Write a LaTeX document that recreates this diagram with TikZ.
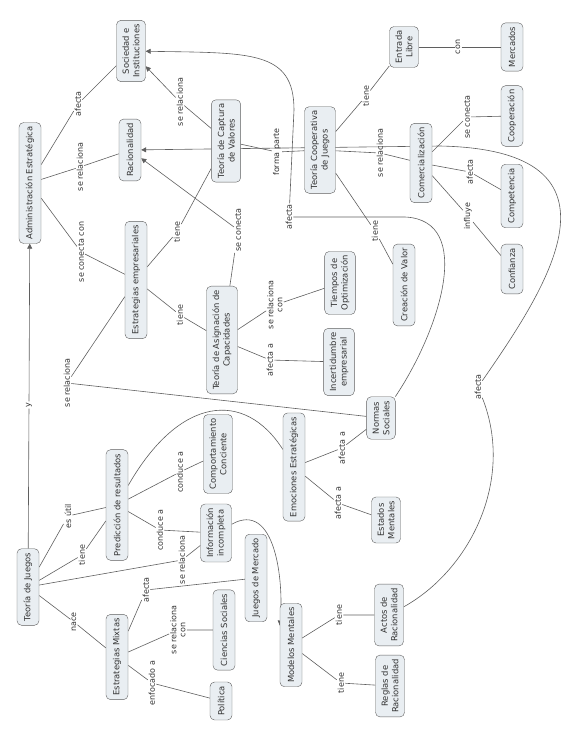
\documentclass[tikz,border=0pt]{standalone}
\usepackage{fontspec}
\setmainfont{DejaVu Sans}
\usepackage{tikz}
\usetikzlibrary{arrows.meta,backgrounds}
\definecolor{ink}{RGB}{50,50,50}
\definecolor{edge}{RGB}{95,95,95}
\definecolor{cbox}{RGB}{233,238,242}

\begin{document}
\begin{tikzpicture}[x=1pt,y=-1pt,
  concept/.style={rectangle,rounded corners=1.6mm,draw=edge,fill=cbox,text=ink,align=center,rotate=90,font=\fontsize{8.4}{10.5}\selectfont,inner xsep=4pt,inner ysep=6pt,minimum height=22pt},
  lbl/.style={rotate=90,align=center,text=ink,font=\fontsize{8}{9}\selectfont,inner sep=1pt},
  link/.style={draw=edge,line width=0.6pt},
  arrow/.style={link,-{Triangle[length=5pt,width=5pt]}}
]
\useasboundingbox (0,0) rectangle (571,737);
\node[concept] (admin) at (30,183) {Administración Estratégica};
\node[concept] (sociedad) at (131,51) {Sociedad e\\Instituciones};
\node[concept] (racional) at (130,150) {Racionalidad};
\node[concept] (captura) at (226,141) {Teoría de Captura\\de Valores};
\node[concept] (estemp) at (136,280) {Estrategias empresariales};
\node[concept] (asigna) at (222,340) {Teoría de Asignación de\\Capacidades};
\node[concept] (coopj) at (320,150) {Teoría Cooperativa\\de Juegos};
\node[concept] (entrada) at (404,47) {Entrada\\Libre};
\node[concept] (mercados) at (512,47) {Mercados};
\node[concept] (comerc) at (421,163) {Comercialización};
\node[concept] (cooperacion) at (512,116) {Cooperación};
\node[concept] (competencia) at (512,196) {Competencia};
\node[concept] (confianza) at (512,269) {Confianza};
\node[concept] (creacion) at (404,285) {Creación de Valor};
\node[concept] (tiempos) at (340,283) {Tiempos de\\Optimización};
\node[concept] (incert) at (339,362) {Incertidumbre\\empresarial};
\node[concept] (normas) at (381,418) {Normas\\Sociales};
\node[concept] (emociones) at (294,467) {Emociones Estratégicas};
\node[concept] (estados) at (386,520) {Estados\\Mentales};
\node[concept] (actos) at (389,615) {Actos de\\Racionalidad};
\node[concept] (reglas) at (390,686) {Reglas de\\Racionalidad};
\node[concept] (modelos) at (291,645) {Modelos Mentales};
\node[concept] (juegos) at (28,587) {Teoría de Juegos};
\node[concept] (prediccion) at (117,505) {Predicción de resultados};
\node[concept] (comport) at (218,454) {Comportamiento\\Conciente};
\node[concept] (info) at (216,533) {Información\\incompleta};
\node[concept] (jmercado) at (256,578) {Juegos de Mercado};
\node[concept] (mixtas) at (117,657) {Estrategias Mixtas};
\node[concept] (ciencias) at (224,630) {Ciencias Sociales};
\node[concept] (politica) at (221,701) {Política};

\node[lbl] (afecta1) at (78,104) {afecta};
\node[lbl] (serel1) at (80,167) {se relaciona};
\node[lbl] (seconcon) at (81,252) {se conecta con};
\node[lbl] (yy) at (29,405) {y};
\node[lbl] (serel2) at (180,102) {se relaciona};
\node[lbl] (tiene1) at (177,232) {tiene};
\node[lbl] (forma) at (277,152) {forma parte};
\node[lbl] (tiene2) at (366,96) {tiene};
\node[lbl] (con) at (458,47) {con};
\node[lbl] (serel3) at (380,153) {se relaciona};
\node[lbl] (seconecta1) at (467,117) {se conecta};
\node[lbl] (afecta2) at (470,172) {afecta};
\node[lbl] (influye) at (468,216) {influye};
\node[lbl] (tiene3) at (375,231) {tiene};
\node[lbl] (afecta3) at (478,387) {afecta};
\node[lbl] (afecta4) at (289,217) {afecta};
\node[lbl] (tiene4) at (180,315) {tiene};
\node[lbl] (seconecta2) at (238,230) {se conecta};
\node[lbl] (serelcon1) at (275,305) {se relaciona\\con};
\node[lbl] (afectaa1) at (270,360) {afecta a};
\node[lbl] (serel4) at (67,383) {se relaciona};
\node[lbl] (afectaa2) at (342,448) {afecta a};
\node[lbl] (afectaa3) at (338,503) {afecta a};
\node[lbl] (esutil) at (68,516) {es útil};
\node[lbl] (tiene5) at (82,555) {tiene};
\node[lbl] (conduce1) at (180,472) {conduce a};
\node[lbl] (conduce2) at (160,530) {conduce a};
\node[lbl] (serel5) at (182,560) {se relaciona};
\node[lbl] (nace) at (74,622) {nace};
\node[lbl] (afecta5) at (146,590) {afecta};
\node[lbl] (serelcon2) at (178,630) {se relaciona\\con};
\node[lbl] (enfocado) at (152,683) {enfocado a};
\node[lbl] (tiene6) at (339,615) {tiene};
\node[lbl] (tiene7) at (341,683) {tiene};

\begin{pgfonlayer}{background}
\draw[link] (admin) -- (afecta1) -- (sociedad);
\draw[link] (admin) -- (serel1) -- (racional);
\draw[link] (admin) -- (seconcon) -- (estemp);
\draw[arrow] (juegos) -- (yy) -- (admin);
\draw[arrow] (captura) -- (serel2) -- (sociedad);
\draw[link] (estemp) -- (tiene1) -- (captura);
\draw[link] (captura) -- (forma) -- (coopj);
\draw[link] (coopj) -- (tiene2) -- (entrada);
\draw[link] (entrada) -- (con) -- (mercados);
\draw[link] (coopj) -- (serel3) -- (comerc);
\draw[link] (comerc) -- (seconecta1) -- (cooperacion);
\draw[link] (comerc) -- (afecta2) -- (competencia);
\draw[link] (comerc) -- (influye) -- (confianza);
\draw[link] (coopj) -- (tiene3) -- (creacion);
\draw[link] (actos) .. controls (470,570) and (515,480) .. (afecta3);
\draw[arrow] (afecta3) .. controls (545,290) and (640,150) .. (440,146) -- (racional);
\draw[link] (normas) .. controls (440,330) and (475,220) .. (405,217) -- (afecta4);
\draw[arrow] (afecta4) -- (294,110) .. controls (294,50) and (250,53) .. (sociedad);
\draw[link] (estemp) -- (tiene4) -- (asigna);
\draw[arrow] (asigna) -- (seconecta2) -- (racional);
\draw[link] (asigna) -- (serelcon1) -- (tiempos);
\draw[link] (asigna) -- (afectaa1) -- (incert);
\draw[link] (estemp) -- (serel4) -- (normas);
\draw[link] (emociones) -- (afectaa2) -- (normas);
\draw[link] (emociones) -- (afectaa3) -- (estados);
\draw[link] (juegos) -- (esutil) -- (prediccion);
\draw[link] (juegos) -- (tiene5) -- (prediccion);
\draw[link] (prediccion) -- (conduce1) -- (comport);
\draw[link] (prediccion) -- (conduce2) -- (info);
\draw[link] (prediccion) .. controls (180,395) and (245,390) .. (emociones);
\draw[link] (juegos) -- (serel5) -- (info);
\draw[arrow] (info) .. controls (275,500) and (284,580) .. (modelos.30);
\draw[link] (juegos) -- (nace) -- (mixtas);
\draw[link] (mixtas) -- (afecta5) -- (jmercado);
\draw[link] (mixtas) -- (serelcon2) -- (ciencias);
\draw[link] (mixtas) -- (enfocado) -- (politica);
\draw[link] (modelos) -- (tiene6) -- (actos);
\draw[link] (modelos) -- (tiene7) -- (reglas);
\end{pgfonlayer}
\end{tikzpicture}
\end{document}
